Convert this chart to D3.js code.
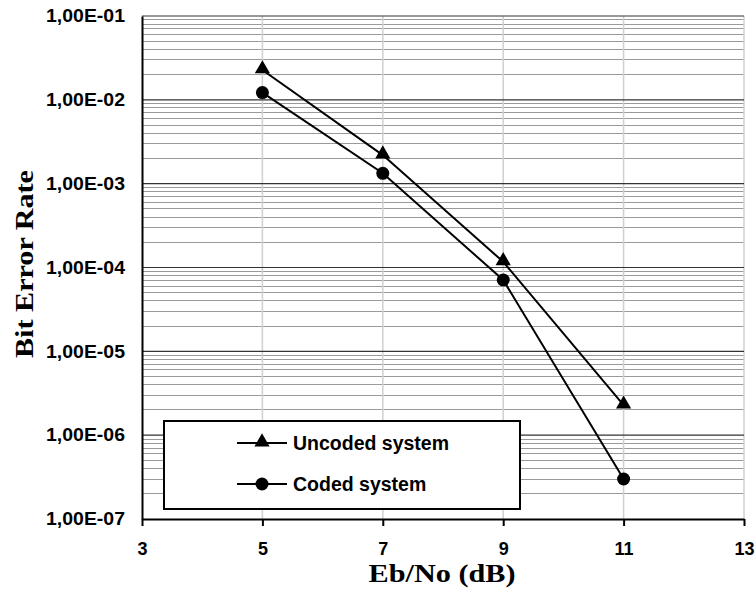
<!DOCTYPE html>
<html><head><meta charset="utf-8">
<script src="https://cdn.jsdelivr.net/npm/d3@7"></script>
<style>body{margin:0;background:#fff}svg{display:block}</style>
</head><body>
<svg id="c" width="755" height="591"></svg>
<script>
const ebno = [5, 7, 9, 11];
const uncoded = [2.27e-2, 2.19e-3, 1.17e-4, 2.28e-6];
const coded = [1.22e-2, 1.33e-3, 7.1e-5, 3.0e-7];
const xTicks = [3, 5, 7, 9, 11, 13];
const yTicks = [1e-1, 1e-2, 1e-3, 1e-4, 1e-5, 1e-6, 1e-7];
const yTickLabels = ["1,00E-01","1,00E-02","1,00E-03","1,00E-04","1,00E-05","1,00E-06","1,00E-07"];
const seriesNames = ["Uncoded system", "Coded system"];

const svg = d3.select("#c");
const L = 142, R = 744, T = 16, B = 519;
const x = d3.scaleLinear().domain([3, 13]).range([L, R]);
const y = d3.scaleLog().domain([1e-7, 1e-1]).range([B, T]);
const sans = "Liberation Sans, Arial, sans-serif";
const serif = "Liberation Serif, Times New Roman, serif";

// minor horizontal grid
const minor = [];
for (let e = -7; e < -1; e++) for (let m = 2; m <= 9; m++) minor.push(m * Math.pow(10, e));
svg.append("g").selectAll("line").data(minor).join("line")
  .attr("x1", L).attr("x2", R).attr("y1", d => y(d)).attr("y2", d => y(d))
  .attr("stroke", "#9a9a9a").attr("stroke-width", 1).attr("shape-rendering", "crispEdges");
// vertical grid
svg.append("g").selectAll("line").data(xTicks.slice(1)).join("line")
  .attr("x1", d => x(d)).attr("x2", d => x(d)).attr("y1", T).attr("y2", B)
  .attr("stroke", "#d0d0d0").attr("stroke-width", 1.5);
// major horizontal grid
svg.append("g").selectAll("line").data(yTicks.slice(0, -1)).join("line")
  .attr("x1", L).attr("x2", R).attr("y1", d => y(d)).attr("y2", d => y(d))
  .attr("stroke", "#333").attr("stroke-width", 1.2);

// axes
const xAxis = d3.axisBottom(x).tickValues(xTicks).tickSize(7).tickSizeOuter(0).tickFormat(d3.format("d"));
const gx = svg.append("g").attr("transform", `translate(0,${B})`).call(xAxis);
gx.select(".domain").attr("stroke", "#000").attr("stroke-width", 2);
gx.selectAll(".tick line").attr("stroke", "#000").attr("stroke-width", 2);
gx.selectAll(".tick text").attr("dy", 0).attr("y", 36)
  .attr("font-family", sans).attr("font-weight", "bold").attr("font-size", 18).attr("fill", "#000");

const yAxis = d3.axisLeft(y).tickValues(yTicks).tickSize(0).tickPadding(17).tickFormat((d, i) => yTickLabels[i]);
const gy = svg.append("g").attr("transform", `translate(${L},0)`).call(yAxis);
gy.select(".domain").attr("stroke", "#000").attr("stroke-width", 2);
gy.selectAll(".tick text")
  .attr("font-family", sans).attr("font-weight", "bold").attr("font-size", 18).attr("fill", "#000")
  .attr("textLength", 79).attr("lengthAdjust", "spacingAndGlyphs");

// axis titles
svg.append("text").attr("x", 442).attr("y", 582).attr("text-anchor", "middle")
  .attr("font-family", serif).attr("font-weight", "bold").attr("font-size", 26)
  .attr("textLength", 147).attr("lengthAdjust", "spacingAndGlyphs")
  .text("Eb/No (dB)");
svg.append("text").attr("transform", "translate(33,264) rotate(-90)").attr("text-anchor", "middle")
  .attr("font-family", serif).attr("font-weight", "bold").attr("font-size", 26)
  .attr("textLength", 188).attr("lengthAdjust", "spacingAndGlyphs")
  .text("Bit Error Rate");

// series
const line = d3.line().x(d => x(d[0])).y(d => y(d[1]));
const sData = [ebno.map((v, i) => [v, uncoded[i]]), ebno.map((v, i) => [v, coded[i]])];
const tri = d3.symbol().type(d3.symbolTriangle).size(100);
sData.forEach((s, k) => {
  svg.append("path").datum(s).attr("d", line).attr("fill", "none").attr("stroke", "#000").attr("stroke-width", 2);
  const g = svg.append("g");
  if (k === 0) {
    g.selectAll("path").data(s).join("path").attr("d", tri)
      .attr("transform", d => `translate(${x(d[0])},${y(d[1]) - 1})`).attr("fill", "#000");
  } else {
    g.selectAll("circle").data(s).join("circle")
      .attr("cx", d => x(d[0])).attr("cy", d => y(d[1])).attr("r", 6.5).attr("fill", "#000");
  }
});

// legend
const lg = svg.append("g");
lg.append("rect").attr("x", 164).attr("y", 421).attr("width", 356).attr("height", 88)
  .attr("fill", "#fff").attr("stroke", "#000").attr("stroke-width", 2);
seriesNames.forEach((n, i) => {
  const cy = 443 + i * 41;
  lg.append("line").attr("x1", 237).attr("x2", 287).attr("y1", cy).attr("y2", cy).attr("stroke", "#000").attr("stroke-width", 2);
  if (i === 0) lg.append("path").attr("d", tri).attr("transform", `translate(262,${cy - 1})`).attr("fill", "#000");
  else lg.append("circle").attr("cx", 262).attr("cy", cy).attr("r", 6.5).attr("fill", "#000");
  lg.append("text").attr("x", 293).attr("y", cy + 7)
    .attr("font-family", sans).attr("font-weight", "bold").attr("font-size", 19.5)
    .text(n);
});
</script>
</body></html>
